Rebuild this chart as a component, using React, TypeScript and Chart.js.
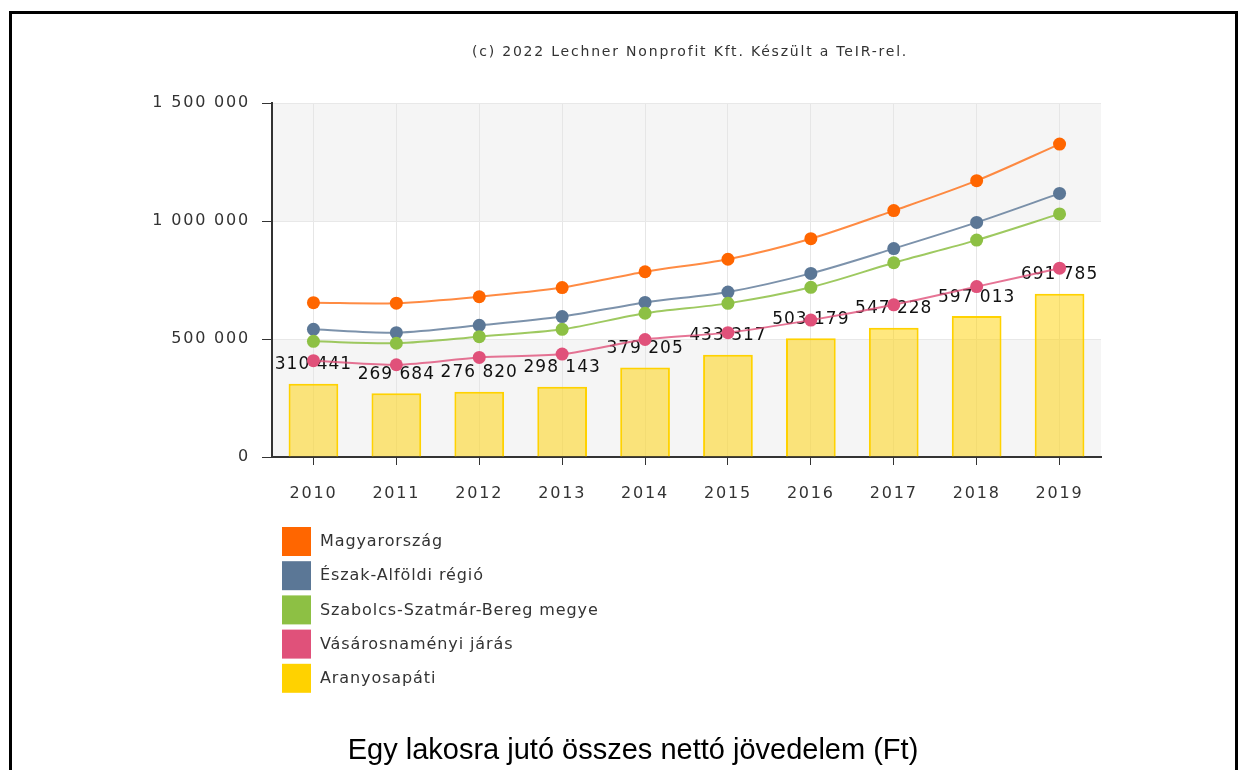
import React, { useEffect, useRef } from 'react';
import { Chart, registerables } from 'chart.js';

Chart.register(...registerables);

const years = ['2010', '2011', '2012', '2013', '2014', '2015', '2016', '2017', '2018', '2019'];
const magyarorszag = [654000, 652000, 679000, 718000, 785000, 838000, 925000, 1044000, 1171000, 1326000];
const eszakAlfold = [541000, 527000, 558000, 595000, 655000, 699000, 778000, 883000, 994000, 1117000];
const szabolcs = [490000, 482000, 510000, 541000, 609000, 651000, 719000, 823000, 919000, 1030000];
const vasarosnameny = [408000, 391000, 422000, 436000, 498000, 527000, 580000, 645000, 722000, 800000];
const aranyosapati = [310441, 269684, 276820, 298143, 379205, 433317, 503179, 547228, 597013, 691785];

const seriesNames = [
  'Magyarország',
  'Észak-Alföldi régió',
  'Szabolcs-Szatmár-Bereg megye',
  'Vásárosnaményi járás',
  'Aranyosapáti',
];
const seriesColors = ['#ff6600', '#5b7796', '#8dc044', '#e0517a', '#ffd200'];
const lineColors = ['rgba(255,110,20,0.8)', 'rgba(91,119,150,0.8)', 'rgba(141,192,68,0.85)', 'rgba(224,81,122,0.8)'];

const yMin = 0;
const yMax = 1500000;
const yStep = 500000;

const titleText = '(c) 2022 Lechner Nonprofit Kft. Készült a TeIR-rel.';
const bottomTitle = 'Egy lakosra jutó összes nettó jövedelem (Ft)';

const fmt = (n: number) => String(Math.round(n)).replace(/\B(?=(\d{3})+(?!\d))/g, ' ');

export default function App() {
  const ref = useRef<HTMLCanvasElement | null>(null);

  useEffect(() => {
    const canvas = ref.current;
    if (!canvas) return;

    const bandsPlugin = {
      id: 'bands',
      beforeDraw(chart: any) {
        const { ctx, chartArea, scales } = chart;
        ctx.save();
        const y = scales.y;
        for (let v = yMin, i = 0; v < yMax; v += yStep, i++) {
          if (i % 2 === 1) continue;
          const top = y.getPixelForValue(v + yStep);
          const bottom = y.getPixelForValue(v);
          ctx.fillStyle = '#f5f5f5';
          ctx.fillRect(chartArea.left, top, chartArea.right - chartArea.left, bottom - top);
        }
        ctx.restore();
        (ctx as any).letterSpacing = '1.8px';
      },
    };

    const labelsPlugin = {
      id: 'barLabels',
      afterDatasetDraw(chart: any, args: any) {
        if (chart.data.datasets[args.index].type !== 'bar') return;
        const { ctx } = chart;
        const meta = chart.getDatasetMeta(args.index);
        ctx.save();
        (ctx as any).letterSpacing = '1px';
        ctx.font = '17px "DejaVu Sans"';
        ctx.fillStyle = '#111';
        ctx.textAlign = 'center';
        ctx.textBaseline = 'middle';
        meta.data.forEach((el: any, i: number) => {
          const v = chart.data.datasets[args.index].data[i];
          ctx.fillText(fmt(v), el.x, el.y - 19);
        });
        ctx.restore();
      },
    };

    const decorPlugin = {
      id: 'decor',
      afterDraw(chart: any) {
        const { ctx } = chart;
        ctx.save();
        // title
        (ctx as any).letterSpacing = '1.8px';
        ctx.font = '14px "DejaVu Sans"';
        ctx.fillStyle = '#333';
        ctx.textAlign = 'center';
        ctx.textBaseline = 'middle';
        ctx.fillText(titleText, 690, 52);
        // legend
        (ctx as any).letterSpacing = '0.9px';
        ctx.font = '16px "DejaVu Sans"';
        ctx.textAlign = 'left';
        seriesNames.forEach((name, i) => {
          const by = 527 + i * 34.2;
          ctx.fillStyle = seriesColors[i];
          ctx.fillRect(282, by, 29, 29);
          ctx.fillStyle = '#333';
          ctx.fillText(name, 320, by + 15);
        });
        // bottom title
        (ctx as any).letterSpacing = '0px';
        ctx.font = '29px "Liberation Sans"';
        ctx.fillStyle = '#000';
        ctx.textAlign = 'center';
        ctx.fillText(bottomTitle, 633, 751);
        // frame
        ctx.fillStyle = '#000';
        ctx.fillRect(9, 11, 1238 - 9, 3);
        ctx.fillRect(9, 11, 3, 770 - 11);
        ctx.fillRect(1235, 11, 3, 770 - 11);
        ctx.restore();
      },
    };

    const lineSets = [magyarorszag, eszakAlfold, szabolcs, vasarosnameny].map((data, i) => ({
      type: 'line' as const,
      label: seriesNames[i],
      data,
      borderColor: lineColors[i],
      backgroundColor: seriesColors[i],
      pointBackgroundColor: seriesColors[i],
      pointBorderWidth: 0,
      pointRadius: 6.5,
      borderWidth: 2,
      tension: 0.3,
      fill: false,
      order: 4 - i,
    }));

    const chart = new Chart(canvas, {
      type: 'bar',
      data: {
        labels: years,
        datasets: [
          ...lineSets,
          {
            type: 'bar' as const,
            label: seriesNames[4],
            data: aranyosapati,
            backgroundColor: 'rgba(255,210,0,0.5)',
            borderColor: '#ffd200',
            borderWidth: 2,
            borderSkipped: 'bottom',
            barPercentage: 0.6,
            categoryPercentage: 1,
            order: 10,
          },
        ] as any,
      },
      options: {
        responsive: false,
        animation: false,
        layout: { padding: { left: 0, top: 103, right: 137, bottom: 253 } },
        plugins: {
          legend: { display: false },
          title: { display: false },
          tooltip: { enabled: false },
        },
        scales: {
          x: {
            offset: true,
            grid: { offset: false, color: '#e6e6e6', tickColor: '#333', tickLength: 8, lineWidth: 1 },
            border: { color: '#333', width: 2 },
            ticks: { color: '#333', font: { family: 'DejaVu Sans', size: 16 }, padding: 19 },
            afterFit: (s: any) => { s.height = 60; },
          },
          y: {
            min: yMin,
            max: yMax,
            grid: { color: '#e8e8e8', tickColor: '#333', tickLength: 10, lineWidth: 1 },
            border: { color: '#333', width: 2 },
            ticks: {
              stepSize: yStep,
              color: '#333',
              font: { family: 'DejaVu Sans', size: 16 },
              padding: 12,
              callback: (v: any) => fmt(Number(v)),
            },
            afterFit: (s: any) => { s.width = 272; },
          },
        },
      },
      plugins: [bandsPlugin, labelsPlugin, decorPlugin],
    });

    return () => chart.destroy();
  }, []);

  return (
    <div style={{ position: 'fixed', left: 0, top: 0, width: 1238, height: 770, background: '#fff' }}>
      <canvas ref={ref} width={1238} height={770} style={{ width: 1238, height: 770, display: 'block' }} />
    </div>
  );
}
